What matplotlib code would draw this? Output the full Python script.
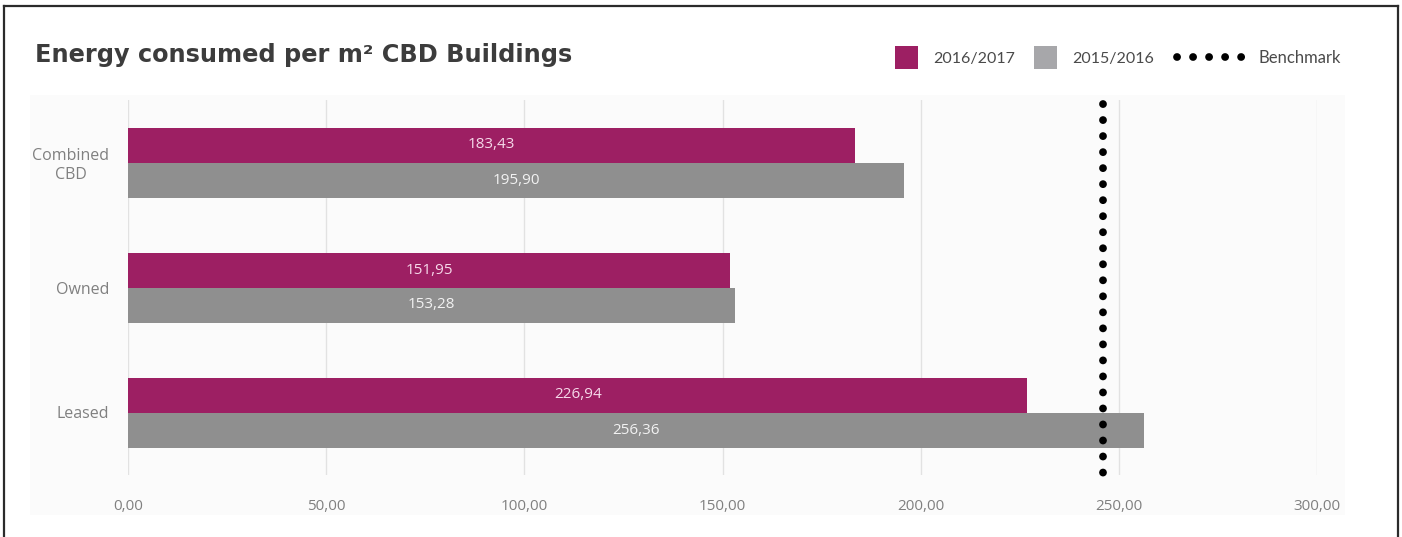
import matplotlib.pyplot as plt
from matplotlib.patches import Rectangle
from matplotlib.lines import Line2D
import numpy as np

categories = ["Combined\nCBD", "Owned", "Leased"]
values_2016_2017 = [183.43, 151.95, 226.94]
values_2015_2016 = [195.90, 153.28, 256.36]
benchmark = 246.0
x_ticks = [0, 50, 100, 150, 200, 250, 300]

MAGENTA = "#9d1f63"
GREY_BAR = "#8f8f8f"
GREY_LEGEND = "#a7a7aa"
TICK_COLOR = "#808080"


def fmt(v):
    # decimal comma, two places
    return f"{v:.2f}".replace(".", ",")


fig = plt.figure(figsize=(14.02, 5.37), dpi=100)
W, H = 1402, 537


def fx(px):
    return px / W


def fy(py):
    return 1 - py / H


# faint panel behind the plot
panel = fig.add_axes([fx(30), fy(515), fx(1345) - fx(30), fy(95) - fy(515)], zorder=0)
panel.set_axis_off()
panel.add_patch(Rectangle((0, 0), 1, 1, transform=panel.transAxes, color="#fbfbfb"))

# frame: left, top, right
for xs, ys in [([4, 4], [6, 537]), ([4, 1398], [6, 6]), ([1398, 1398], [6, 537])]:
    fig.lines.append(Line2D([fx(x) for x in xs], [fy(y) for y in ys],
                            transform=fig.transFigure, color="#2b2b2b", lw=1.6))

ax = fig.add_axes([fx(128), fy(475), fx(1317) - fx(128), fy(100) - fy(475)], zorder=2)
ax.set_facecolor("none")

y = np.arange(len(categories))
h = 0.28
bars_new = ax.barh(y - h / 2, values_2016_2017, height=h, color=MAGENTA, zorder=3)
bars_old = ax.barh(y + h / 2, values_2015_2016, height=h, color=GREY_BAR, zorder=3)

for bars, vals, col in [(bars_new, values_2016_2017, "#f6d9ea"), (bars_old, values_2015_2016, "#f2f2f2")]:
    for b, v in zip(bars, vals):
        ax.text(v / 2, b.get_y() + b.get_height() / 2, fmt(v), ha="center", va="center",
                color=col, fontsize=11, family="Open Sans", zorder=4)

# dotted benchmark, drawn top-down so the dots start at the top
ax.axvline(benchmark, ymin=0.99, ymax=0.004, color="black", lw=5.6,
           linestyle=(0, (0.01, 2.05)), dash_capstyle="round", zorder=5, clip_on=False)

ax.set_xlim(0, 300)
ax.set_ylim(2.5, -0.5)
ax.set_xticks(x_ticks)
ax.set_xticklabels([fmt(v) for v in x_ticks])
ax.set_yticks(y)
ax.set_yticklabels(categories, multialignment="center")
ax.tick_params(length=0, colors=TICK_COLOR, labelsize=11)
ax.tick_params(axis="x", pad=17)
ax.tick_params(axis="y", pad=13.5, labelsize=11.5)
for lbl in ax.get_xticklabels() + ax.get_yticklabels():
    lbl.set_family("Open Sans")
ax.grid(axis="x", color="#e2e2e2", lw=1, zorder=0)
for s in ax.spines.values():
    s.set_visible(False)

fig.text(fx(35), fy(62), "Energy consumed per m² CBD Buildings", fontsize=17.3,
         fontweight="bold", color="#3c3c3c", family="DejaVu Sans", va="baseline")

# legend
ly = 57
for x0, col, label in [(895, MAGENTA, "2016/2017"), (1034, GREY_LEGEND, "2015/2016")]:
    fig.patches.append(Rectangle((fx(x0), fy(ly + 12)), fx(23), 23 / H,
                                 transform=fig.transFigure, facecolor=col, edgecolor="none"))
    fig.text(fx(x0 + 38), fy(ly + 2), label, fontsize=11.5, color="#4a4a4a",
             family="Lato", va="center")
fig.lines.append(Line2D([fx(1177), fx(1243)], [fy(ly), fy(ly)], transform=fig.transFigure,
                        color="black", lw=5.6, linestyle=(0, (0.01, 2.05)),
                        dash_capstyle="round"))
fig.text(fx(1258), fy(ly + 1), "Benchmark", fontsize=12, color="#4a4a4a",
         family="Lato", va="center")

fig.savefig("out.png", dpi=100)
